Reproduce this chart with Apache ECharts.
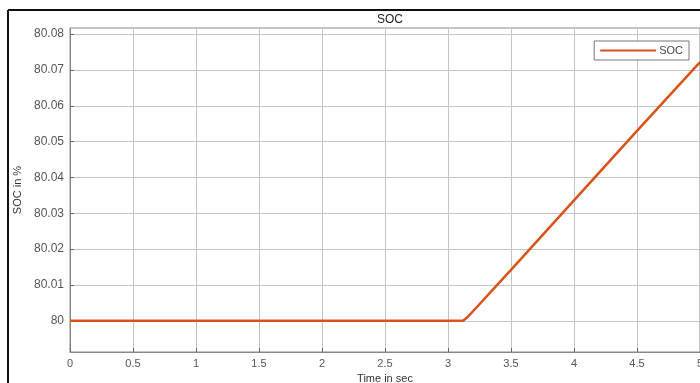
<!DOCTYPE html>
<html>
<head>
<meta charset="utf-8">
<script src="https://cdn.jsdelivr.net/npm/echarts@6/dist/echarts.min.js"></script>
<style>html,body{margin:0;padding:0;background:#fff;}#c{width:700px;height:383px;}</style>
</head>
<body>
<div id="c"></div>
<script>
const timeSec = [0, 3.12, 3.16, 3.5, 4.0, 4.5, 5.0];
const socValues = [80, 80, 80.0012, 80.0142, 80.0336, 80.0530, 80.0722];
const yTicks = [80, 80.01, 80.02, 80.03, 80.04, 80.05, 80.06, 80.07, 80.08];
const seriesName = 'SOC';

const chart = echarts.init(document.getElementById('c'), null, {renderer: 'canvas'});
const font = 'Liberation Sans, Arial, sans-serif';
chart.setOption({
  animation: false,
  backgroundColor: '#fff',
  title: {
    text: 'SOC', left: 385, top: 9, textAlign: 'center',
    textStyle: {fontFamily: font, fontSize: 12, fontWeight: 'normal', color: '#222'}
  },
  legend: {
    data: [seriesName], right: 11, top: 41,
    orient: 'vertical',
    backgroundColor: '#fff', borderColor: '#777', borderWidth: 1,
    padding: [4, 6, 4, 6],
    itemWidth: 56, itemHeight: 10, itemGap: 4,
    icon: 'path://M0,4 L56,4 L56,6 L0,6 Z',
    textStyle: {fontFamily: font, fontSize: 11, color: '#444', padding: [0,0,0,-2]}
  },
  grid: {left: 70, right: 0, top: 28, bottom: 31, show: true, borderColor: '#888', borderWidth: 1,
    containLabel: false, outerBoundsMode: 'none'},
  xAxis: {
    type: 'value', min: 0, max: 5, interval: 0.5,
    name: 'Time in sec', nameLocation: 'middle', nameGap: 21,
    nameTextStyle: {fontFamily: font, fontSize: 11, color: '#333'},
    axisLine: {show: true, lineStyle: {color: '#888'}},
    axisTick: {show: true, inside: true, length: 4, lineStyle: {color: '#666'}},
    axisLabel: {fontFamily: font, fontSize: 11, color: '#555', margin: 6},
    splitLine: {show: true, lineStyle: {color: '#c4c4c4', width: 1}}
  },
  yAxis: {
    type: 'value', min: 79.9913, max: 80.0817,
    name: 'SOC in %', nameLocation: 'middle', nameGap: 46, nameRotate: 90,
    nameTextStyle: {fontFamily: font, fontSize: 11, color: '#333'},
    axisLine: {show: true, lineStyle: {color: '#888'}},
    axisTick: {show: true, inside: true, length: 4, lineStyle: {color: '#666'}, customValues: yTicks},
    axisLabel: {fontFamily: font, fontSize: 12, color: '#555', margin: 6, customValues: yTicks,
      formatter: v => (Math.abs(v - 80) < 1e-9 ? '80' : v.toFixed(2))},
    splitLine: {show: true, lineStyle: {color: '#c4c4c4', width: 1}}
  },
  series: [{
    name: seriesName, type: 'line', showSymbol: false,
    data: timeSec.map((t, i) => [t, socValues[i]]),
    lineStyle: {color: '#D95319', width: 2.5},
    itemStyle: {color: '#D95319'}
  }],
  graphic: [
    {type: 'line', shape: {x1: 8, y1: 10, x2: 700, y2: 10}, style: {stroke: '#111', lineWidth: 2}},
    {type: 'line', shape: {x1: 8, y1: 10, x2: 8, y2: 383}, style: {stroke: '#111', lineWidth: 2}}
  ]
});
</script>
</body>
</html>
